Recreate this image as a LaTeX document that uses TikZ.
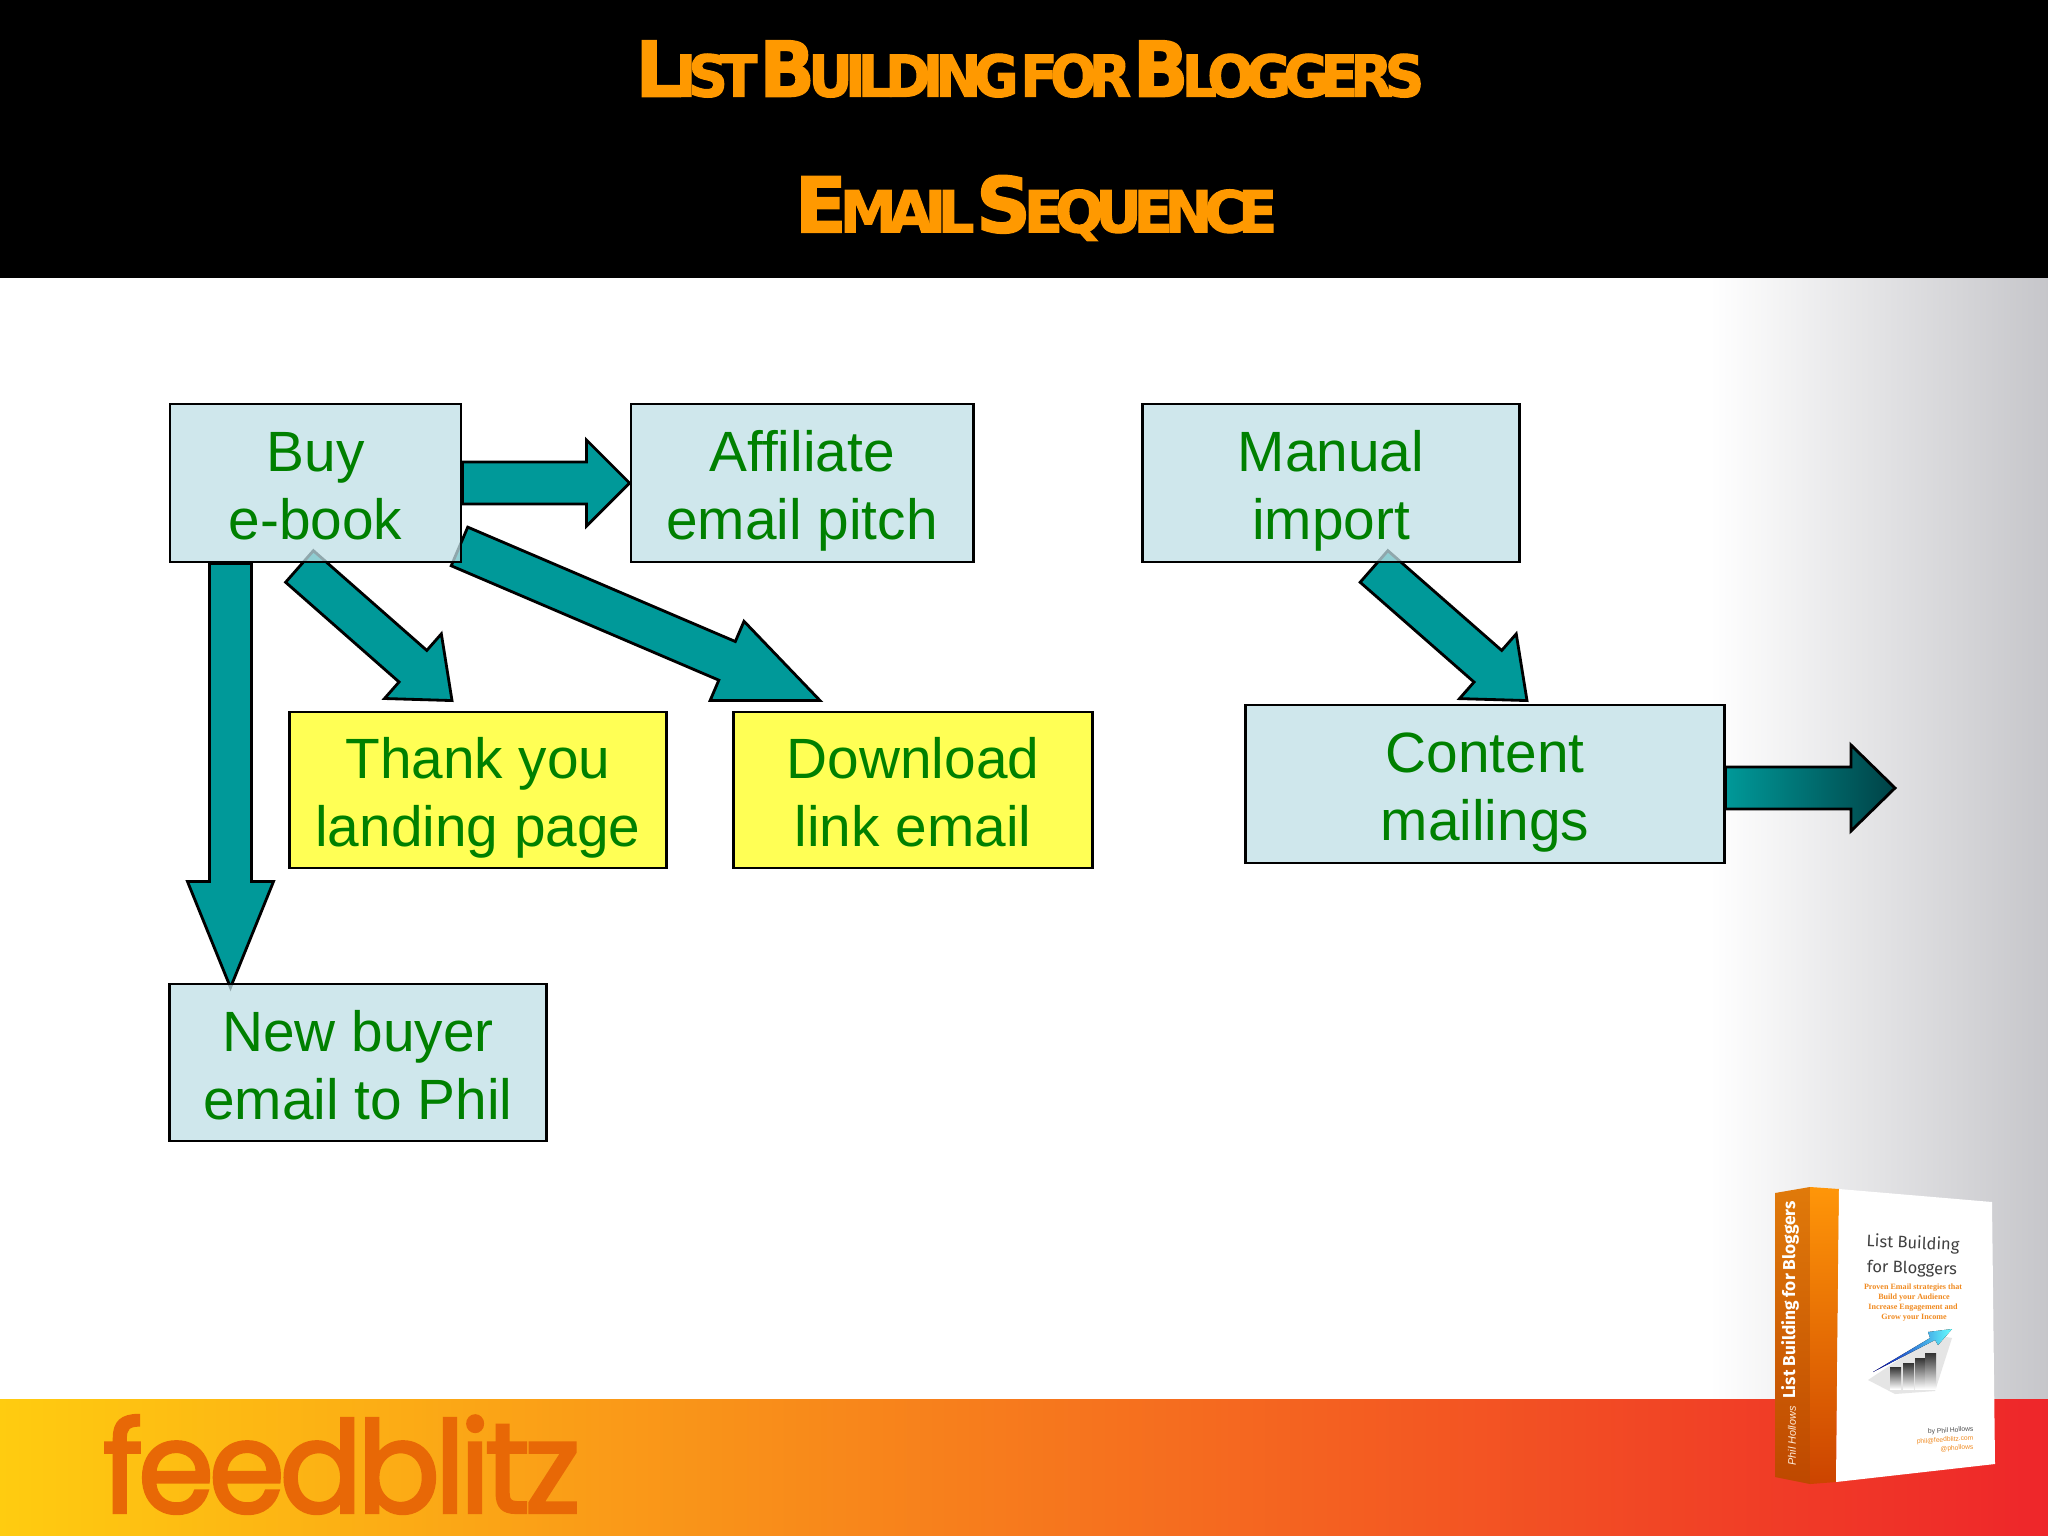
\documentclass[tikz,border=0pt]{standalone}
\usepackage{fontspec}
\usepackage{xcolor}
\usepackage{tikz}
\usetikzlibrary{calc}
\setmainfont{Liberation Sans}
\newfontfamily\titlefont[LetterSpace=-14, FakeBold=2]{DejaVu Sans Bold}
\newfontfamily\logofont[LetterSpace=-4, FakeBold=2.5]{Poppins}
\newfontfamily\bookfont{Fira Sans}
\newfontfamily\slabfont{Liberation Serif}
\definecolor{titleOrange}{RGB}{255,153,0}
\definecolor{boxGreen}{RGB}{0,128,0}
\definecolor{boxBlue}{RGB}{192,224,230}
\definecolor{boxYellow}{RGB}{255,255,85}
\definecolor{arrowTeal}{RGB}{0,153,153}
\definecolor{arrowDark}{RGB}{0,66,70}
\definecolor{bookOrange}{RGB}{240,138,32}
\definecolor{pageGrey}{RGB}{198,198,202}
\definecolor{logoOrange}{RGB}{232,104,6}
\pgfdeclarelayer{back}
\pgfsetlayers{back,main}
\newcommand{\titlebig}[1]{{\fontsize{40}{40}\selectfont #1\kern-.09em}}
\newcommand{\titlesmall}[1]{{\fontsize{30}{30}\selectfont #1}}
% block arrow: tail, tip, head length
\newcommand{\blockarrow}[4][]{
	\coordinate (hb) at ($(#3)!#4!(#2)$);
	\draw[arrowline, #1] ($(#2)!.21cm!90:(#3)$) -- ($(hb)!.21cm!-90:(#2)$) -- ($(hb)!.43cm!-90:(#2)$)
		-- (#3) -- ($(hb)!.43cm!90:(#2)$) -- ($(hb)!.21cm!90:(#2)$) -- ($(#2)!.21cm!-90:(#3)$) -- cycle;
}
\tikzset{
	stepbox/.style={draw=black, line width=.8pt, inner sep=0, align=center, text=boxGreen,
		font=\fontsize{16.15}{19.3}\selectfont, text opacity=1,
		text height=36pt, text depth=3.7pt},
	bluebox/.style={stepbox, fill=boxBlue, fill opacity=.75},
	yellowbox/.style={stepbox, fill=boxYellow},
	arrowline/.style={draw=black, fill=arrowTeal, line width=.8pt, line join=miter},
	titletext/.style={inner sep=0, text=titleOrange},
	spinetext/.style={inner sep=0, text=white, rotate=90},
	covertext/.style={inner sep=0, text=black!75, font=\bookfont\fontsize{4.7}{5}\selectfont},
	slabtext/.style={inner sep=0, text=bookOrange, font=\slabfont\bfseries\fontsize{2.3}{3}\selectfont},
	bylinetext/.style={inner sep=0, anchor=east, rotate=4, font=\fontsize{1.9}{2}\selectfont},
}
\begin{document}
\begin{tikzpicture}[x=.01cm, y=-.01cm, line cap=butt]
	\useasboundingbox (0,0) rectangle (2048,1536);
	% flow boxes
	\node[bluebox, minimum width=2.91cm, minimum height=1.58cm] (buy) at (315.5,483) {Buy\\e-book};
	\node[bluebox, minimum width=3.42cm, minimum height=1.58cm] (affiliate) at (802,483) {Affiliate\\email pitch};
	\node[bluebox, minimum width=3.76cm, minimum height=1.58cm] (manual) at (1331,483) {Manual\\import};
	\node[yellowbox, minimum width=3.76cm, minimum height=1.56cm] (thanks) at (478,790) {Thank you\\landing page};
	\node[yellowbox, minimum width=3.58cm, minimum height=1.56cm] (download) at (913,790) {Download\\link email};
	\node[bluebox, minimum width=4.78cm, minimum height=1.58cm] (content) at (1485,784) {Content\\mailings};
	\node[bluebox, minimum width=3.76cm, minimum height=1.57cm] (newbuyer) at (358,1062.5) {New buyer\\email to Phil};

	\coordinate (out) at (1895,788);

	\begin{pgfonlayer}{back}
		\fill[white] (0,0) rectangle (2048,1536);
		\fill[left color=white, right color=pageGrey] (1710,278) rectangle (2048,1399);
		\fill[black] (0,0) rectangle (2048,278);
		\fill[left color={rgb,255:red,255;green,204;blue,16}, middle color={rgb,255:red,247;green,147;blue,30},
			right color={rgb,255:red,238;green,38;blue,42}] (0,1399) rectangle (2048,1536);

		\blockarrow{buy.east}{affiliate.west}{.43cm}
		\blockarrow{$(buy.south)+(-85,0)$}{$(newbuyer.north)+(-127.5,5)$}{1.06cm}
		\blockarrow{$(buy.south)+(-16,3)$}{$(thanks.north)+(-26,-10)$}{.52cm}
		\blockarrow{$(buy.south east)+(-3,-17)$}{$(download.north)+(-93,-10)$}{1.01cm}
		\blockarrow{$(manual.south)+(43,3)$}{$(content.north)+(42,-3)$}{.52cm}
		\blockarrow[left color=arrowTeal, right color=arrowDark]{$(content.east)+(0,4)$}{out}{.44cm}
	\end{pgfonlayer}

	% title
	\node[titletext] (titleone) at (1030,69) {\resizebox{7.88cm}{.56cm}{\titlefont\titlebig{L}\titlesmall{IST}\hspace{.1em}\titlebig{B}\titlesmall{UILDING}\hspace{.1em}\titlesmall{FOR}\hspace{.1em}\titlebig{B}\titlesmall{LOGGERS}}};
	\node[titletext] (titletwo) at (1036,208) {\resizebox{4.82cm}{.57cm}{\titlefont\titlebig{E}\titlesmall{MAIL}\hspace{.1em}\titlebig{S}\titlesmall{EQUENCE}}};

	% logo
	\node[inner sep=0, text=logoOrange] (logo) at (341.5,1464.5) {\resizebox{4.77cm}{.97cm}{\logofont feedblitz}};

	% book
	\shade[top color={rgb,255:red,224;green,122;blue,10}, bottom color={rgb,255:red,190;green,72;blue,0}]
		(1775,1193) -- (1810,1187) -- (1810,1484) -- (1775,1477) -- cycle;
	\shade[top color={rgb,255:red,255;green,150;blue,8}, bottom color={rgb,255:red,204;green,68;blue,0}]
		(1810,1187) -- (1839,1189) -- (1836,1482) -- (1810,1484) -- cycle;
	\fill[white] (1839,1189) -- (1992,1202) -- (1995,1464) -- (1836,1482) -- cycle;
	\node[spinetext, font=\bookfont\bfseries\fontsize{4.9}{6}\selectfont] (spinetitle) at (1790,1300) {List Building for Bloggers};
	\node[spinetext, text=white!85!orange, font=\itshape\fontsize{3.1}{4}\selectfont] (spineauthor) at (1792,1436) {Phil Hollows};
	\node[covertext, rotate=-2.6] (coverone) at (1913,1244) {List Building};
	\node[covertext, rotate=-1.5] (covertwo) at (1912,1269) {for Bloggers};
	\node[slabtext] (slabone) at (1913,1288) {Proven Email strategies that};
	\node[slabtext] (slabtwo) at (1914,1298) {Build your Audience};
	\node[slabtext] (slabthree) at (1913,1308) {Increase Engagement and};
	\node[slabtext] (slabfour) at (1914,1318) {Grow your Income};
	% chart on the cover
	\fill[black!10] (1868,1380) -- (1936,1335) -- (1952,1338) -- (1935,1391) -- (1895,1394) -- cycle;
	\fill[left color=blue!70!black, right color=cyan!60!white]
		(1873,1372) -- (1930,1338) -- (1928,1332) -- (1952,1329) -- (1938,1345) -- (1935,1340) -- cycle;
	\foreach \bx/\by in {1890/1367, 1903/1363, 1915/1358, 1925/1353} {
		\shade[top color=black!80, bottom color=white] (\bx,\by) rectangle ++(11,{1389-\by});
	}
	\node[bylinetext, text=black!70] (bylineone) at (1974,1429) {by Phil Hollows};
	\node[bylinetext, text=bookOrange] (bylinetwo) at (1974,1438) {phil@feedblitz.com};
	\node[bylinetext, text=bookOrange] (bylinethree) at (1974,1447) {@phollows};
\end{tikzpicture}
\end{document}
